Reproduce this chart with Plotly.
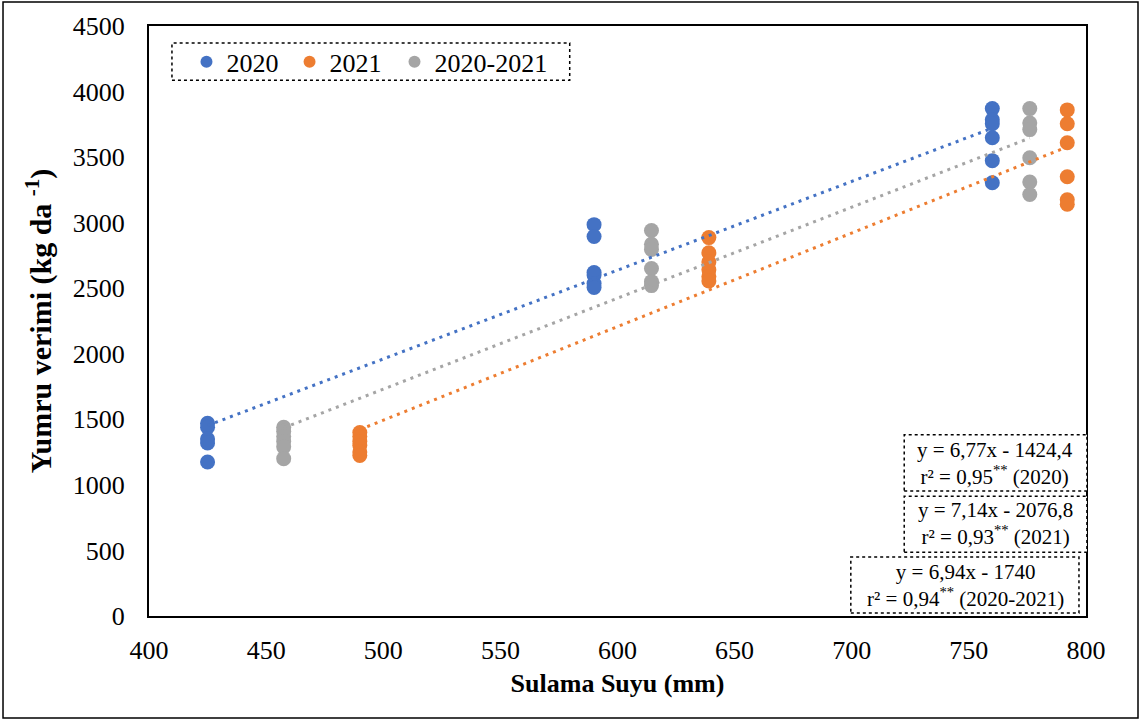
import plotly.graph_objects as go

# ---- data ----
x_2020 = [425, 425, 425, 425, 425,
          590, 590, 590, 590, 590, 590,
          760, 760, 760, 760, 760, 760]
y_2020 = [1470, 1440, 1350, 1320, 1175,
          2985, 2895, 2620, 2600, 2536, 2505,
          3870, 3785, 3755, 3648, 3473, 3305]

x_2021 = [490, 490, 490, 490, 490, 490,
          639, 639, 639, 639, 639, 639,
          792, 792, 792, 792, 792, 792]
y_2021 = [1400, 1370, 1330, 1300, 1250, 1225,
          2886, 2770, 2700, 2640, 2590, 2555,
          3860, 3755, 3610, 3350, 3175, 3140]

x_all = [457.5, 457.5, 457.5, 457.5, 457.5, 457.5,
         614.5, 614.5, 614.5, 614.5, 614.5, 614.5,
         776, 776, 776, 776, 776, 776]
y_all = [1440, 1410, 1370, 1330, 1290, 1200,
         2940, 2835, 2795, 2650, 2550, 2520,
         3870, 3760, 3710, 3495, 3310, 3215]

series_names = ["2020", "2021", "2020-2021"]
slopes = [6.77, 7.14, 6.94]
intercepts = [-1424.4, -2076.8, -1740]
r2_values = ["0,95", "0,93", "0,94"]
colors = ["#4472C4", "#ED7D31", "#A5A5A5"]

FONT = "Liberation Serif"

fig = go.Figure()
xs = [x_2020, x_2021, x_all]
ys = [y_2020, y_2021, y_all]
legend_ids = ["legend", "legend2", "legend3"]
legend_x = [0.04, 0.150, 0.262]
for name, x, y, c, lg in zip(series_names, xs, ys, colors, legend_ids):
    fig.add_trace(go.Scatter(x=x, y=y, mode="markers", name=name, legend=lg,
                             marker=dict(color=c, size=15, line=dict(width=0))))
for x, m, b, c in zip(xs, slopes, intercepts, colors):
    xl = [min(x), max(x)]
    yl = [m * v + b for v in xl]
    fig.add_trace(go.Scatter(x=xl, y=yl, mode="lines", showlegend=False,
                             line=dict(color=c, width=3, dash="3px,5px"),
                             hoverinfo="skip"))

# annotation boxes (paper coords)
boxes = [
    dict(x0=0.806, x1=1.001, y0=0.212, y1=0.307, cx=0.903, cy=0.259),
    dict(x0=0.806, x1=1.001, y0=0.108, y1=0.203, cx=0.903, cy=0.156),
    dict(x0=0.749, x1=0.9925, y0=0.005, y1=0.100, cx=0.871, cy=0.0525),
]
shapes = []
annotations = []
for bx, name, m, b, r2 in zip(boxes, series_names, slopes, intercepts, r2_values):
    shapes.append(dict(type="rect", xref="paper", yref="paper",
                       x0=bx["x0"], x1=bx["x1"], y0=bx["y0"], y1=bx["y1"],
                       line=dict(color="black", width=1.5, dash="dot"),
                       fillcolor="white", layer="above"))
    bstr = f"{abs(b):g}".replace(".", ",")
    mstr = f"{m:.2f}".replace(".", ",")
    sign = "-" if b < 0 else "+"
    txt = f"y = {mstr}x {sign} {bstr}<br>r² = {r2}<sup>**</sup> ({name})"
    annotations.append(dict(xref="paper", yref="paper", x=bx["cx"], y=bx["cy"],
                            text=txt, showarrow=False, align="center",
                            xanchor="center", yanchor="middle",
                            font=dict(family=FONT, size=21, color="black")))

# legend dotted box
shapes.append(dict(type="rect", xref="paper", yref="paper",
                   x0=0.0245, x1=0.449, y0=0.908, y1=0.971,
                   line=dict(color="black", width=1.5, dash="dot"),
                   fillcolor="rgba(0,0,0,0)", layer="above"))
# outer chart border
shapes.append(dict(type="rect", xref="paper", yref="paper",
                   x0=-0.1558, x1=1.0555, y0=-0.1729, y1=1.0407,
                   line=dict(color="black", width=1.5)))

legend_style = dict(orientation="h", y=0.979, xanchor="left", yanchor="top",
                    font=dict(family=FONT, size=26, color="black"),
                    bgcolor="rgba(0,0,0,0)", itemsizing="constant")

fig.update_layout(
    width=1140, height=722,
    margin=dict(l=149, r=54, t=26, b=106),
    paper_bgcolor="white", plot_bgcolor="white",
    font=dict(family=FONT, color="black", size=26),
    shapes=shapes, annotations=annotations,
    legend=dict(x=legend_x[0], **legend_style),
    legend2=dict(x=legend_x[1], **legend_style),
    legend3=dict(x=legend_x[2], **legend_style),
    xaxis=dict(range=[400, 800], dtick=50, showgrid=False, zeroline=False,
               showline=True, mirror=True, linecolor="black", linewidth=2,
               ticks="", ticklabelstandoff=10,
               tickfont=dict(family=FONT, size=26),
               title=dict(text="<b>Sulama Suyu (mm)</b>", font=dict(family=FONT, size=26),
                          standoff=10)),
    yaxis=dict(range=[0, 4500], dtick=500, showgrid=False, zeroline=False,
               showline=True, mirror=True, linecolor="black", linewidth=2,
               ticks="", ticklabelstandoff=17,
               tickfont=dict(family=FONT, size=26),
               title=dict(text="<b>Yumru verimi (kg da <sup>-1</sup>)</b>",
                          font=dict(family=FONT, size=30), standoff=12)),
)

fig.write_html("out.html", config={"displayModeBar": False},
               post_script="document.body.style.margin='0';document.body.style.padding='0';")
